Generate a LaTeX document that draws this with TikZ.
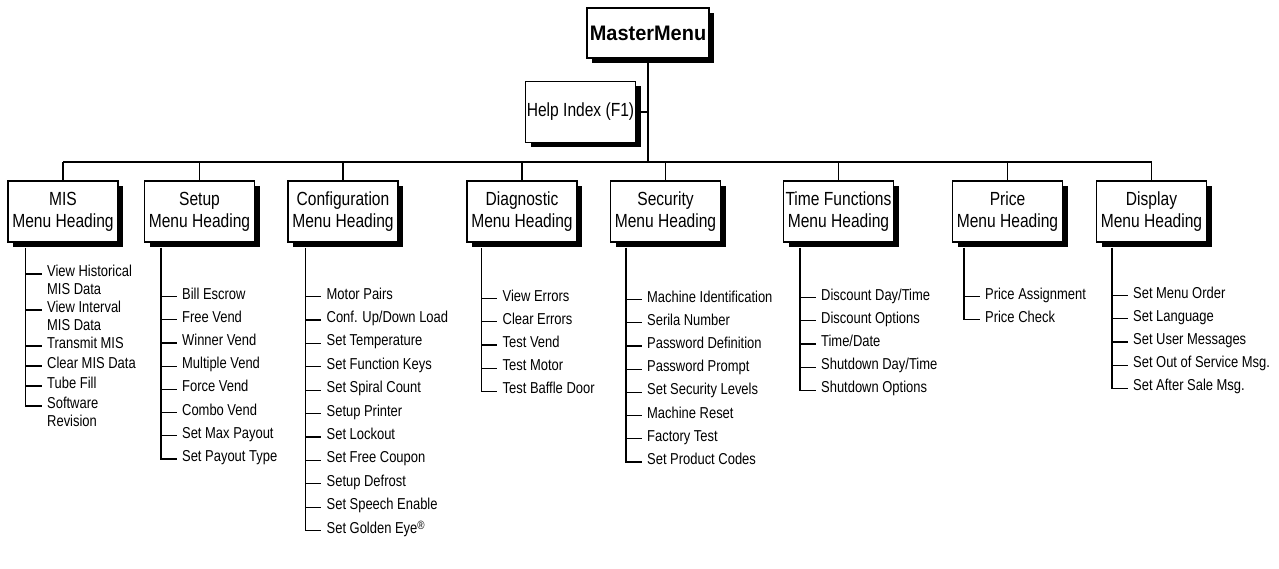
\documentclass[tikz,border=0pt]{standalone}
\usepackage{fontspec}
\setmainfont{Liberation Sans}[FakeStretch=0.82]
\newfontfamily\masterfont{Liberation Sans}[FakeStretch=0.95]
\usetikzlibrary{positioning,calc,shadows}

% two-line item, baseline on its first line
\newcommand{\twoline}[2]{\begin{tabular}[t]{@{}l@{}}#1\\#2\end{tabular}}
\newcommand{\regmark}{\raisebox{4pt}{\fontsize{12}{12}\selectfont\textregistered}}

\tikzset{
  menubox/.style={draw,line width=1.1pt,fill=white,align=center,inner sep=1pt,
    minimum width=110pt,minimum height=61pt,font=\fontsize{19}{22}\selectfont,
    drop shadow={opacity=1,fill=black,shadow xshift=5pt,shadow yshift=-5pt}},
  masterbox/.style={menubox,minimum width=122pt,minimum height=50pt,
    font=\masterfont\bfseries\fontsize{21}{24}\selectfont},
  menuitem/.style={anchor=mid west,inner xsep=5pt,inner ysep=0pt,
    font=\fontsize{15.8}{17.5}\selectfont},
  link/.style={line width=1.1pt},
}

\begin{document}
\begin{tikzpicture}[x=1pt,y=-1pt]
  \useasboundingbox (0,0) rectangle (1279,569);
  % Master menu and help index
  \node[masterbox] (master) at (648,33) {MasterMenu};
  \node[menubox] (help) at (580.5,112) {Help Index (F1)};
  \coordinate (bus) at (648,162);
  \draw[link] (master.south) -- (bus);
  \draw[link] (help.east) -- (help.east -| bus);
  % Menu headings
  \foreach \name/\x/\title in {mis/63/MIS, setup/199.5/Setup, conf/343/Configuration,
      diag/522/Diagnostic, sec/665.5/Security, time/838.5/Time Functions,
      price/1007.5/Price, disp/1151.5/Display}{
    \node[menubox] (\name) at (\x,211.5) {\title\\Menu Heading};
    \draw[link] (\name.north) -- (\name.north |- bus);
  }
  \draw[link] (mis.north |- bus) -- (disp.north |- bus);
  % MIS
  \foreach \txt/\y [count=\i] in {\twoline{View Historical}{MIS Data}/274,
      \twoline{View Interval}{MIS Data}/310, Transmit MIS/346, Clear MIS Data/366,
      Tube Fill/386, \twoline{Software}{Revision}/406}{
    \node[menuitem] (mis-\i) at (42,\y) {\txt};
  }
  % Setup
  \foreach \txt [count=\i] in {Bill Escrow, Free Vend, Winner Vend, Multiple Vend,
      Force Vend, Combo Vend, Set Max Payout, Set Payout Type}{
    \node[menuitem] (setup-\i) at ($(setup.south west)+(33,30.8+23.2*\i)$) {\txt};
  }
  % Configuration
  \foreach \txt [count=\i] in {Motor Pairs, Conf. Up/Down Load, Set Temperature,
      Set Function Keys, Set Spiral Count, Setup Printer, Set Lockout, Set Free Coupon,
      Setup Defrost, Set Speech Enable, Set Golden Eye\regmark}{
    \node[menuitem] (conf-\i) at ($(conf.south west)+(34,30.6+23.4*\i)$) {\txt};
  }
  % Diagnostic
  \foreach \txt [count=\i] in {View Errors, Clear Errors, Test Vend, Test Motor,
      Test Baffle Door}{
    \node[menuitem] (diag-\i) at ($(diag.south west)+(31,32.8+23.2*\i)$) {\txt};
  }
  % Security
  \foreach \txt [count=\i] in {Machine Identification, Serila Number,
      Password Definition, Password Prompt, Set Security Levels, Machine Reset,
      Factory Test, Set Product Codes}{
    \node[menuitem] (sec-\i) at ($(sec.south west)+(32,33.8+23.2*\i)$) {\txt};
  }
  % Time functions
  \foreach \txt [count=\i] in {Discount Day/Time, Discount Options, Time/Date,
      Shutdown Day/Time, Shutdown Options}{
    \node[menuitem] (time-\i) at ($(time.south west)+(33,31.8+23.2*\i)$) {\txt};
  }
  % Price
  \foreach \txt [count=\i] in {Price Assignment, Price Check}{
    \node[menuitem] (price-\i) at ($(price.south west)+(28,30.8+23.2*\i)$) {\txt};
  }
  % Display
  \foreach \txt [count=\i] in {Set Menu Order, Set Language, Set User Messages,
      Set Out of Service Msg., Set After Sale Msg.}{
    \node[menuitem] (disp-\i) at ($(disp.south west)+(32,29.8+23.2*\i)$) {\txt};
  }
  % trunks and stubs
  \foreach \col/\dx/\n in {mis/18/6, setup/17/8, conf/18/11, diag/15/5,
      sec/16/8, time/17/5, price/12/2, disp/16/5}{
    \coordinate (\col-top) at ($(\col.south west)+(\dx,5)$);
    \draw[link] (\col-top) |- (\col-\n.mid west);
    \foreach \i in {1,...,\n}
      \draw[link] (\col-\i.mid west -| \col-top) -- (\col-\i.mid west);
  }
\end{tikzpicture}
\end{document}
